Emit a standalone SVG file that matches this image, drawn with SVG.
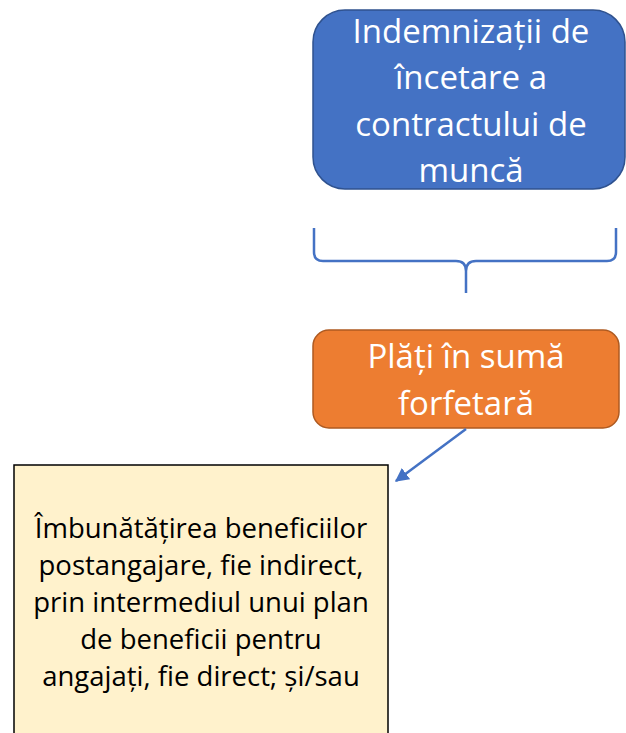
<svg xmlns="http://www.w3.org/2000/svg" width="626" height="733" viewBox="0 0 626 733">
<style>
.t{font-family:"Open Sans","Noto Sans","DejaVu Sans",sans-serif;text-anchor:middle}
.w{fill:#ffffff}
.b{fill:#000000}
.con{fill:none;stroke:#4472C4;stroke-width:2.5}
</style>
<defs>
<marker id="ah" viewBox="0 0 10 10" refX="9" refY="5" markerWidth="5.5" markerHeight="5.5" orient="auto" markerUnits="strokeWidth">
<path d="M0,0 L10,5 L0,10 z" fill="#4472C4"/>
</marker>
</defs>
<g id="node-indemnizatii">
<rect x="313" y="10" width="312" height="179" rx="32" ry="32" fill="#4472C4" stroke="#2F528F" stroke-width="1.5"/>
<text class="t w" font-size="33" x="471" y="43">Indemnizații de</text>
<text class="t w" font-size="33" x="471" y="89">încetare a</text>
<text class="t w" font-size="33" x="471" y="136">contractului de</text>
<text class="t w" font-size="33" x="471" y="182">muncă</text>
</g>
<g id="node-plati">
<rect x="313" y="330" width="306" height="98" rx="16" ry="16" fill="#ED7D31" stroke="#AE5A21" stroke-width="1.5"/>
<text class="t w" font-size="33" x="466" y="368">Plăți în sumă</text>
<text class="t w" font-size="33" x="466" y="415">forfetară</text>
</g>
<g id="node-imbunatatirea">
<rect x="14" y="465" width="374" height="290" fill="#FFF2CC" stroke="#000000" stroke-width="1.5"/>
<text class="t b" font-size="27.5" x="201" y="538">Îmbunătățirea beneficiilor</text>
<text class="t b" font-size="27.5" x="201" y="575">postangajare, fie indirect,</text>
<text class="t b" font-size="27.5" x="201" y="612">prin intermediul unui plan</text>
<text class="t b" font-size="27.5" x="201" y="649">de beneficii pentru</text>
<text class="t b" font-size="27.5" x="201" y="686">angajați, fie direct; și/sau</text>
</g>
<g id="connectors">
<path class="con" d="M314,228 L314,252 Q314,261 323,261 L456,261 Q466,261 466,271 L466,293 M466,271 Q466,261 476,261 L607,261 Q616,261 616,252 L616,228"/>
<line class="con" x1="466" y1="429" x2="396" y2="481" marker-end="url(#ah)"/>
</g>
</svg>
